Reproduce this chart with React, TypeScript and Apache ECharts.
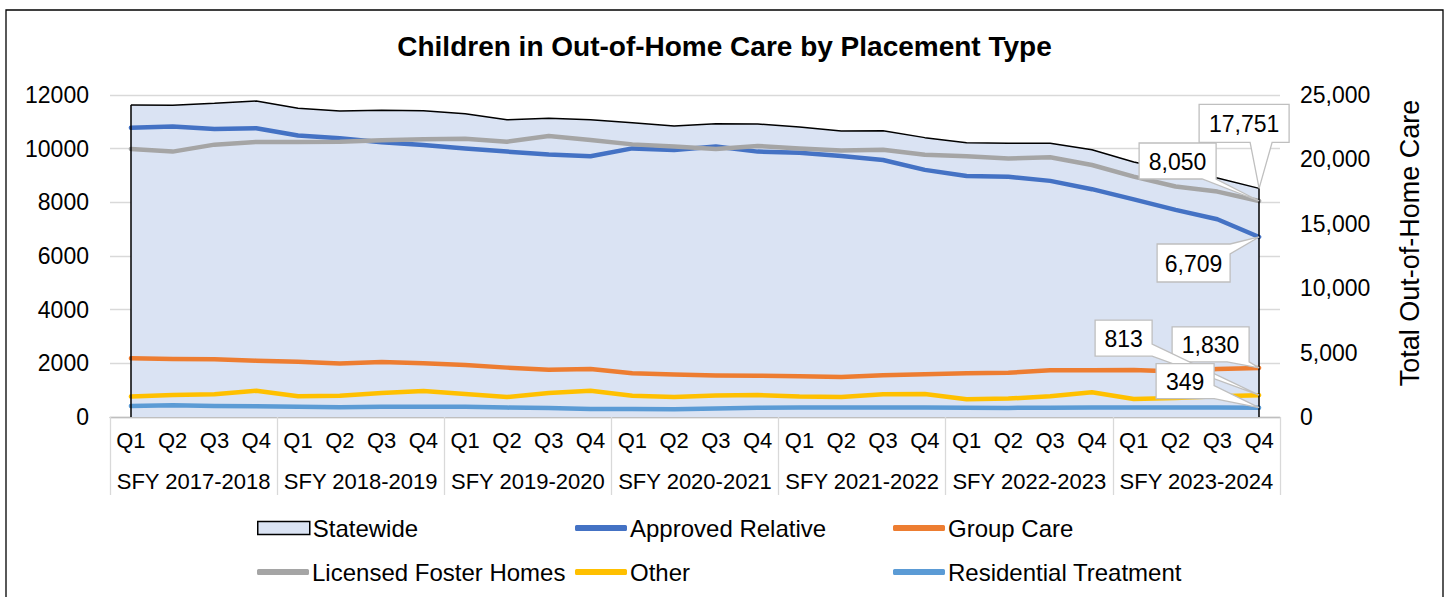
import React, { useEffect, useRef } from 'react';
import * as echarts from 'echarts';

const FONT = '"Liberation Sans", Arial, sans-serif';

// ---- data ----
const quarterLabels = [
  'Q1', 'Q2', 'Q3', 'Q4', 'Q1', 'Q2', 'Q3', 'Q4', 'Q1', 'Q2', 'Q3', 'Q4', 'Q1', 'Q2',
  'Q3', 'Q4', 'Q1', 'Q2', 'Q3', 'Q4', 'Q1', 'Q2', 'Q3', 'Q4', 'Q1', 'Q2', 'Q3', 'Q4',
];
const fiscalYears = [
  'SFY 2017-2018', 'SFY 2018-2019', 'SFY 2019-2020', 'SFY 2020-2021',
  'SFY 2021-2022', 'SFY 2022-2023', 'SFY 2023-2024',
];
const statewide = [
  24220, 24200, 24350, 24530, 23970, 23760, 23810, 23780, 23550, 23080, 23190, 23080, 22850, 22600,
  22770, 22750, 22520, 22210, 22230, 21690, 21300, 21250, 21260, 20750, 19800, 19100, 18550, 17751,
];
const approvedRelative = [
  10780, 10830, 10730, 10760, 10490, 10390, 10240, 10140, 10010, 9890, 9780, 9720, 10010, 9950,
  10080, 9890, 9850, 9730, 9580, 9210, 8980, 8950, 8800, 8490, 8110, 7720, 7370, 6709,
];
const groupCare = [
  2190, 2160, 2150, 2100, 2060, 1990, 2050, 2000, 1940, 1840, 1760, 1790, 1630, 1580,
  1550, 1540, 1520, 1490, 1560, 1590, 1630, 1650, 1740, 1740, 1750, 1700, 1790, 1830,
];
const licensedFosterHomes = [
  9990, 9890, 10150, 10250, 10250, 10260, 10310, 10350, 10370, 10260, 10470, 10320, 10160, 10080,
  9990, 10100, 10010, 9930, 9960, 9770, 9720, 9630, 9680, 9390, 8960, 8590, 8400, 8050,
];
const other = [
  760, 820, 845, 980, 770, 795, 895, 970, 855, 745, 895, 980, 795, 745,
  805, 820, 760, 745, 845, 855, 660, 685, 770, 920, 670, 710, 770, 813,
];
const residentialTreatment = [
  410, 435, 410, 405, 385, 360, 380, 385, 385, 350, 335, 300, 298, 286,
  320, 345, 350, 350, 352, 350, 345, 340, 345, 350, 352, 350, 352, 349,
];
const leftAxisMax = 12000;
const leftAxisStep = 2000;
const rightAxisMax = 25000;
const rightAxisStep = 5000;

const seriesDefs = [
  { name: 'Statewide', data: statewide, color: '#dae3f3', axis: 1 },
  { name: 'Approved Relative', data: approvedRelative, color: '#4472c4', axis: 0 },
  { name: 'Group Care', data: groupCare, color: '#ed7d31', axis: 0 },
  { name: 'Licensed Foster Homes', data: licensedFosterHomes, color: '#a5a5a5', axis: 0 },
  { name: 'Other', data: other, color: '#ffc000', axis: 0 },
  { name: 'Residential Treatment', data: residentialTreatment, color: '#5b9bd5', axis: 0 },
];

// legend placement (layout only)
const legendPos = [
  [257, 516], [575, 516], [893, 516],
  [257, 560], [575, 560], [893, 560],
];

// callout label layout: offsets of the box from the labelled point
const callouts = [
  { s: 0, dx: -60, dy: -84, w: 90, h: 38, edge: 'bottom', a: 51, b: 73 },
  { s: 3, dx: -120, dy: -58, w: 77, h: 36, edge: 'bottom', a: 63, b: 77 },
  { s: 1, dx: -102, dy: 7, w: 73, h: 38, edge: 'right', a: 0, b: 10 },
  { s: 2, dx: -87, dy: -41, w: 77, h: 35, edge: 'bottom', a: 55, b: 77 },
  { s: 4, dx: -164, dy: -75, w: 57, h: 36, edge: 'right', a: 24, b: 36 },
  { s: 5, dx: -103, dy: -44, w: 58, h: 35, edge: 'right', a: 22, b: 35 },
];

function calloutPoints(x: number, y: number, w: number, h: number, edge: string, a: number, b: number, apex: number[]) {
  const pts: number[][] = [];
  pts.push([x, y]);
  if (edge === 'top') pts.push([x + a, y], apex, [x + b, y]);
  pts.push([x + w, y]);
  if (edge === 'right') pts.push([x + w, y + a], apex, [x + w, y + b]);
  pts.push([x + w, y + h]);
  if (edge === 'bottom') pts.push([x + b, y + h], apex, [x + a, y + h]);
  pts.push([x, y + h]);
  return pts;
}

export default function App() {
  const ref = useRef<HTMLDivElement>(null);

  useEffect(() => {
    if (!ref.current) return;
    const chart = echarts.init(ref.current, null, { renderer: 'svg' });
    const last = quarterLabels.length - 1;

    const series: any[] = seriesDefs.map((d, i) => {
      if (i === 0) {
        return {
          name: d.name,
          type: 'line',
          xAxisIndex: 0,
          yAxisIndex: 1,
          data: d.data,
          symbol: 'none',
          color: d.color,
          lineStyle: { color: '#000', width: 1.5 },
          areaStyle: { color: d.color, opacity: 1 },
          z: 1,
          silent: true,
          markLine: {
            silent: true,
            symbol: ['none', 'none'],
            label: { show: false },
            lineStyle: { color: '#000', width: 1.5, type: 'solid' },
            data: [
              [{ coord: [0, 0] }, { coord: [0, d.data[0]] }],
              [{ coord: [last, 0] }, { coord: [last, d.data[last]] }],
            ],
          },
        };
      }
      return {
        name: d.name,
        type: 'line',
        xAxisIndex: 0,
        yAxisIndex: 0,
        data: d.data,
        symbol: 'none',
        color: d.color,
        lineStyle: { color: d.color, width: 4.5, cap: 'round', join: 'round' },
        z: 3,
        silent: true,
      };
    });

    const legends = seriesDefs.map((d, i) => ({
      data: [
        i === 0
          ? { name: d.name, icon: 'rect', itemStyle: { color: d.color, borderColor: '#000', borderWidth: 1.5 } }
          : { name: d.name, icon: 'roundRect', itemStyle: { color: d.color, borderWidth: 0 } },
      ],
      left: legendPos[i][0],
      top: legendPos[i][1],
      padding: 0,
      itemWidth: 52,
      itemHeight: i === 0 ? 13 : 6,
      itemGap: 0,
      selectedMode: false,
      textStyle: { fontSize: 24, color: '#000', fontFamily: FONT, padding: [0, 0, 0, -2] },
    }));

    chart.setOption({
      animation: false,
      backgroundColor: '#fff',
      title: {
        text: 'Children in Out-of-Home Care by Placement Type',
        left: 'center',
        top: 32,
        padding: 0,
        textStyle: { fontSize: 28, fontWeight: 'bold', color: '#000', fontFamily: FONT },
      },
      legend: legends,
      grid: { left: 110, right: 169, top: 95, bottom: 180, containLabel: false },
      xAxis: [
        {
          type: 'category',
          position: 'bottom',
          data: quarterLabels,
          boundaryGap: true,
          axisLine: { show: true, lineStyle: { color: '#bfbfbf', width: 1.3 } },
          axisTick: { show: false },
          axisLabel: { interval: 0, fontSize: 22, color: '#000', fontFamily: FONT, margin: 12 },
          splitLine: { show: false },
        },
        {
          type: 'category',
          position: 'bottom',
          data: fiscalYears,
          boundaryGap: true,
          axisLine: { show: false },
          axisTick: { show: true, length: 78, lineStyle: { color: '#d9d9d9', width: 1.3 } },
          axisLabel: { interval: 0, fontSize: 22, color: '#000', fontFamily: FONT, margin: 53 },
          splitLine: { show: false },
        },
      ],
      yAxis: [
        {
          type: 'value',
          position: 'left',
          min: 0,
          max: leftAxisMax,
          interval: leftAxisStep,
          axisLine: { show: false },
          axisTick: { show: false },
          axisLabel: {
            fontSize: 23,
            color: '#000',
            fontFamily: FONT,
            margin: 21,
            formatter: (v: number) => String(v),
          },
          splitLine: { show: true, lineStyle: { color: '#d9d9d9', width: 1.3 } },
        },
        {
          type: 'value',
          position: 'right',
          min: 0,
          max: rightAxisMax,
          interval: rightAxisStep,
          name: 'Total Out-of-Home Care',
          nameLocation: 'middle',
          nameRotate: 90,
          nameGap: 116,
          nameTextStyle: { fontSize: 27, color: '#000', fontFamily: FONT, padding: [0, 0, 0, 26] },
          axisLine: { show: false },
          axisTick: { show: false },
          axisLabel: {
            fontSize: 23,
            color: '#000',
            fontFamily: FONT,
            margin: 20,
            formatter: (v: number) => v.toLocaleString('en-US'),
          },
          splitLine: { show: false },
        },
      ],
      series,
    });

    // callout data labels on the last points, positioned from the axes' own scales
    const graphics: any[] = [
      {
        type: 'rect',
        shape: { x: 6, y: 10, width: 1437, height: 640 },
        style: { fill: 'none', stroke: '#000', lineWidth: 1.3 },
        z: 50,
        silent: true,
      },
    ];
    callouts.forEach((c) => {
      const def = seriesDefs[c.s];
      const v = def.data[last];
      const p = chart.convertToPixel({ xAxisIndex: 0, yAxisIndex: def.axis }, [last, v]) as number[];
      const x = p[0] + c.dx;
      const y = p[1] + c.dy;
      graphics.push({
        type: 'polygon',
        shape: { points: calloutPoints(x, y, c.w, c.h, c.edge, c.a, c.b, [p[0], p[1]]) },
        style: { fill: '#fff', stroke: '#bfbfbf', lineWidth: 1.3 },
        z: 100,
        silent: true,
      });
      graphics.push({
        type: 'text',
        x: x + c.w / 2,
        y: y + c.h / 2 + 1,
        style: {
          text: v.toLocaleString('en-US'),
          fontSize: 23,
          fontFamily: FONT,
          fill: '#000',
          align: 'center',
          verticalAlign: 'middle',
        },
        z: 101,
        silent: true,
      });
    });
    chart.setOption({ graphic: graphics });

    return () => chart.dispose();
  }, []);

  return (
    <div
      ref={ref}
      style={{ position: 'absolute', left: 0, top: 0, width: 1449, height: 597, background: '#fff' }}
    />
  );
}
